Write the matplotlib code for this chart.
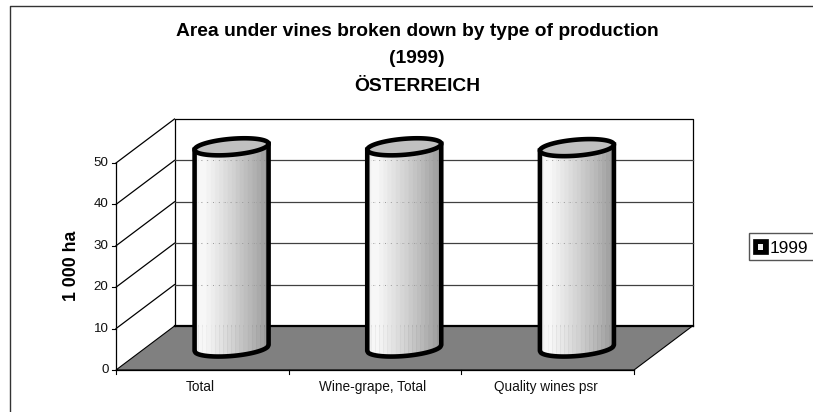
import numpy as np
import matplotlib
matplotlib.use("Agg")
import matplotlib.pyplot as plt
from matplotlib.patches import Polygon, Rectangle

categories = ["Total", "Wine-grape, Total", "Quality wines psr"]
values = [48.6, 48.6, 48.4]
y_ticks = [0, 10, 20, 30, 40, 50]
title_lines = ["Area under vines broken down by type of production", "(1999)", "ÖSTERREICH"]
y_label = "1 000 ha"
legend_label = "1999"

plt.rcParams['font.family'] = ['Liberation Sans', 'DejaVu Sans']
W, H = 813, 412
fig = plt.figure(figsize=(W / 100, H / 100), dpi=100)
ax = fig.add_axes([0, 0, 1, 1])
ax.set_xlim(0, W)
ax.set_ylim(H, 0)
ax.axis('off')

# pseudo-3D projection: category position, value, depth (0 front .. 1 back)
X0, X1, Y0, UNIT, DX, DY = 116.0, 634.0, 370.0, 4.14, 58.5, 44.0
STEP = (X1 - X0) / len(categories)
def px(c, d=0.0):
    return X0 + c * STEP + d * DX
def py(v, d=0.0):
    return Y0 - v * UNIT - d * DY

top = y_ticks[-1]
nc = len(categories)
# floor
ax.add_patch(Polygon([(px(0), py(0)), (px(nc), py(0)), (px(nc, 1), py(0, 1)), (px(0, 1), py(0, 1))],
                     fc='#808080', ec='black', lw=0.8, zorder=1))
# walls
ax.plot([px(0, 1), px(0, 1), px(nc, 1), px(nc, 1)],
        [py(0, 1), py(top, 1), py(top, 1), py(0, 1)], color='black', lw=0.9, zorder=2)
ax.plot([px(0), px(0)], [py(0), py(top)], color='black', lw=0.9, zorder=2)
ax.plot([px(0, 1), px(nc, 1)], [py(0, 1), py(0, 1)], color='black', lw=1.6, zorder=2)
for t in y_ticks[1:]:
    ax.plot([px(0), px(0, 1)], [py(t), py(t, 1)], color='black', lw=0.9, zorder=2)
    if t < top:
        ax.plot([px(0, 1), px(nc, 1)], [py(t, 1), py(t, 1)], color='#404040', lw=0.9, zorder=2)
    ax.plot([px(0) - 4, px(0)], [py(t), py(t)], color='black', lw=0.8, zorder=2)
    ax.text(px(0) - 7.5, py(t), str(t), ha='right', va='center', fontsize=9.6, color='#111111')
ax.plot([px(0) - 4, px(0)], [py(0), py(0)], color='black', lw=0.8, zorder=2)
ax.text(px(0) - 7.5, py(0), "0", ha='right', va='center', fontsize=9.6, color='#111111')
# front axis
ax.plot([px(0), px(nc)], [py(0), py(0)], color='black', lw=0.9, zorder=2)
for i in range(nc + 1):
    ax.plot([px(i), px(i)], [py(0), py(0) + 4], color='black', lw=0.8, zorder=2)
for i, c in enumerate(categories):
    ax.text(px(i + 0.5) - 2, py(0) + 17, c, ha='center', va='center', fontsize=9.8, color='#111111')

# cylinders
A, TILT, B = 37.0, 3.0, 8.0
LW = 3.3
stops_x = [0.0, 0.10, 0.25, 0.5, 0.75, 1.0]
stops_g = [0.92, 0.98, 0.93, 0.83, 0.72, 0.60]
theta = np.linspace(0, 2 * np.pi, 100)
for i, v in enumerate(values):
    cx = px(i + 0.5, 0.5)
    yb, yt = py(0, 0.5), py(v, 0.5)
    n = 18
    edges = np.linspace(-1, 1, n + 1)
    for a, b in zip(edges[:-1], edges[1:]):
        mid = (a + b) / 2
        g = np.interp((mid + 1) / 2, stops_x, stops_g)
        xs = np.linspace(a, b, 6)
        off = np.sqrt(1 - xs ** 2) * B
        xp = cx + xs * A
        tilt = -xs * TILT
        ax.fill(np.r_[xp, xp[::-1]],
                np.r_[yt + tilt, (yb + tilt + off)[::-1]],
                fc=str(g), ec=str(g), lw=0.3, zorder=3)
    # faint gridlines showing through
    for t in y_ticks[1:]:
        gy = py(t, 1)
        if yt + B < gy < yb:
            ax.plot([cx - A, cx + A], [gy, gy], color='#999999', lw=0.7, ls=(0, (1, 5)), zorder=3.5)
    ex = cx + A * np.cos(theta)
    ey = yt - TILT * np.cos(theta) + B * np.sin(theta)
    ax.fill(ex, ey, fc='#c0c0c0', ec='black', lw=LW, zorder=5)
    xs = np.linspace(-1, 1, 80)
    xp = cx + xs * A
    ob = yb - xs * TILT + np.sqrt(1 - xs ** 2) * B
    ax.plot(np.r_[cx - A, xp, cx + A], np.r_[yt + TILT, ob, yt - TILT],
            color='black', lw=LW, zorder=4, solid_joinstyle='round')

# chart border
ax.plot([10.3, 10.3, W], [H, 5.7, 5.7], color='#333333', lw=1.0, zorder=6)

# titles
for line, y in zip(title_lines, [31, 58.5, 86]):
    ax.text(417, y, line, ha='center', va='center', fontsize=13.9, fontweight='bold')
ax.text(71.5, 266, y_label, rotation=90, ha='center', va='center', fontsize=12.8, fontweight='bold')

# legend
ax.add_patch(Rectangle((749, 233), 70, 27, fc='white', ec='#555555', lw=1.0, zorder=6))
ax.add_patch(Rectangle((753, 239), 15, 15, fc='black', ec='black', lw=0.5, zorder=7))
ax.add_patch(Rectangle((758, 243.5), 5, 6, fc='#f0f0f0', ec='none', zorder=8))
ax.text(770, 248, legend_label, ha='left', va='center', fontsize=12.4, zorder=8)

fig.savefig("out.png", dpi=100)
